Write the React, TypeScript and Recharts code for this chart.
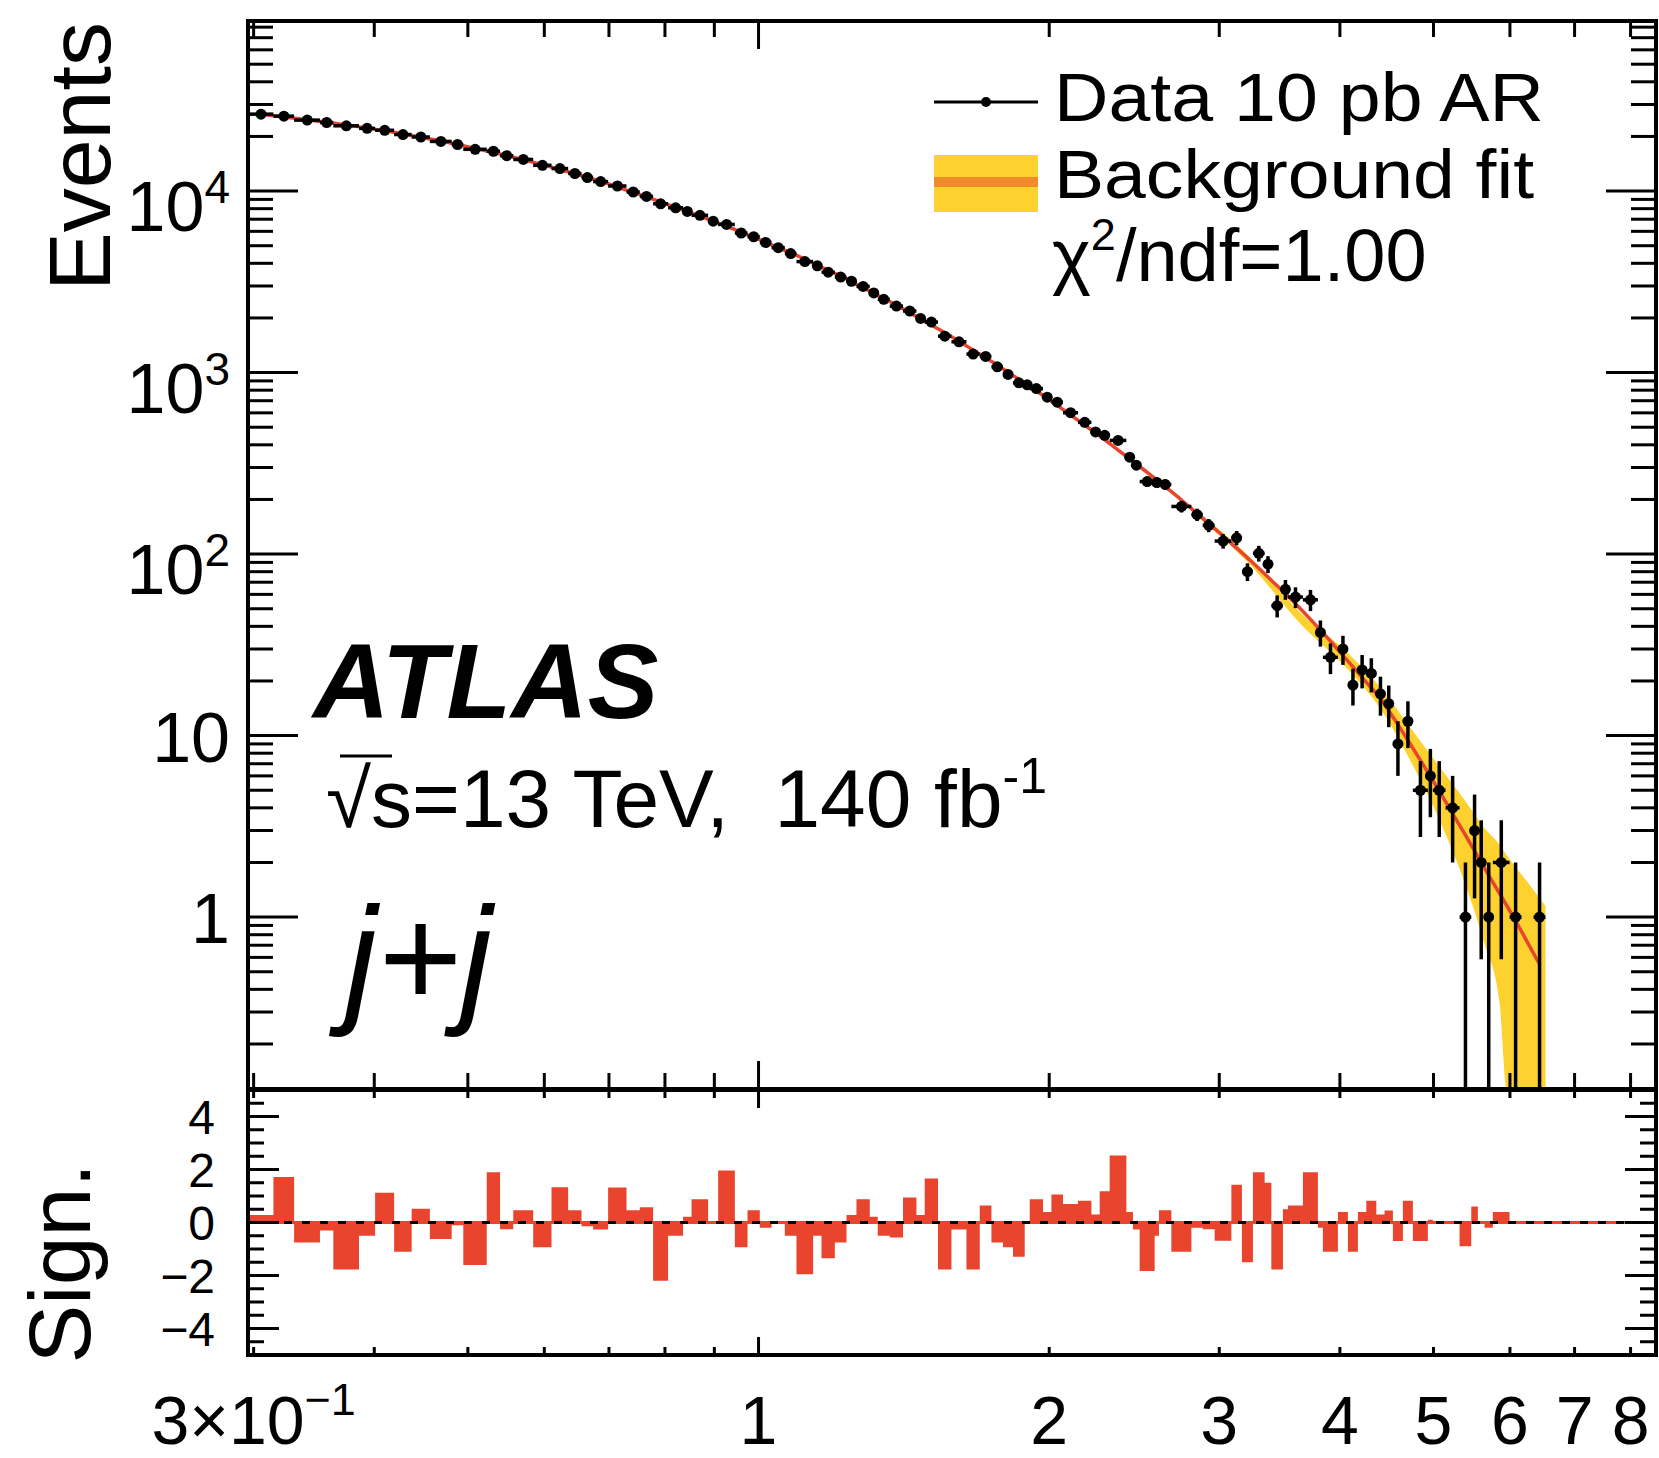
import React from 'react';
import {
  ComposedChart,
  Scatter,
  Line,
  Area,
  XAxis,
  YAxis,
  ErrorBar,
  ReferenceArea,
  ReferenceLine,
} from 'recharts';

// ---------------- data ----------------
const binEdges = [
  0.2962, 0.3145, 0.3304, 0.3514, 0.3628, 0.3857, 0.4008, 0.4194, 0.4373, 0.4567,
  0.4811, 0.4946, 0.523, 0.5399, 0.5572, 0.5843, 0.6104, 0.6351, 0.6557, 0.6741,
  0.6986, 0.7299, 0.7534, 0.7777, 0.806, 0.8353, 0.8524, 0.8867, 0.9082, 0.9451,
  0.9741, 1.003, 1.0315, 1.0647, 1.0947, 1.139, 1.162, 1.1995, 1.2334, 1.263,
  1.3037, 1.3288, 1.3673, 1.4114, 1.4572, 1.4863, 1.5342, 1.5841, 1.6418, 1.6947,
  1.7426, 1.7914, 1.8346, 1.8865, 1.9091, 1.9706, 2.0105, 2.0668, 2.142, 2.2116,
  2.2558, 2.3101, 2.4039, 2.442, 2.4814, 2.5717, 2.5982, 2.6762, 2.8072, 2.8839,
  2.9675, 3.088, 3.1667, 3.2509, 3.3428, 3.3967, 3.4919, 3.5338, 3.6624, 3.7956,
  3.841, 3.9811, 4.0772, 4.1756, 4.26, 4.3627, 4.4497, 4.5389, 4.6483, 4.7603,
  4.9335, 4.9926, 5.1462, 5.3211, 5.4714, 5.5582, 5.6476, 5.7606, 5.9947, 6.1686,
  6.3475, 6.5313,
];

const dataCounts = [
  26540, 25865, 24600, 23870, 22890, 22155, 21625, 20490, 19855, 18775,
  18055, 16990, 16575, 15660, 14935, 13870, 13300, 12500, 11875, 11280,
  10665, 9884, 9348, 8513, 8091, 7728, 7353, 6827, 6549, 5876,
  5603, 5208, 4879, 4529, 4089, 3876, 3574, 3360, 3186, 2982,
  2747, 2534, 2324, 2184, 1989, 1898, 1587, 1478, 1265, 1228,
  1076, 977, 878, 856, 816, 732, 687, 601, 532, 471,
  451, 423, 342, 309, 251, 248, 242, 183, 165, 144,
  118, 123, 80, 101, 88, 52, 64, 58, 56, 37,
  27, 30, 19, 23, 22, 17, 15, 9, 12, 5,
  6, 5, 4, 1, 3, 2, 1, 2, 1, 0,
  1,
];

const fitValues = [
  26490, 25590, 24720, 23920, 23160, 22230, 21460, 20650, 19780, 18860,
  18070, 17200, 16330, 15690, 14880, 13980, 13150, 12450, 11890, 11310,
  10530, 9838, 9292, 8718, 8136, 7709, 7278, 6823, 6392, 5948,
  5569, 5222, 4882, 4563, 4216, 3907, 3656, 3404, 3170, 2934,
  2735, 2559, 2352, 2140, 1977, 1827, 1659, 1488, 1330, 1206,
  1101, 1006, 917, 855, 791, 721.5, 659.8, 584.3, 513.3, 464.8,
  426.6, 374.5, 334.5, 313.4, 282.2, 255.9, 235, 198.6, 167.5, 147.5,
  125.8, 107.9, 95.3, 83.6, 74.7, 66.9, 60.4, 53.2, 43.7, 38.1,
  33.1, 27.6, 23.9, 20.9, 18.3, 16.0, 13.7, 11.5, 9.43, 7.31,
  5.96, 4.95, 3.72, 2.83, 2.32, 2.0, 1.7, 1.3, 0.954, 0.724,
  0.55,
];

const significance = [
  0.28, 1.72, -0.75, -0.3, -1.77, -0.5, 1.12, -1.1, 0.52, -0.62,
  -0.1, -1.6, 1.9, -0.25, 0.46, -0.93, 1.33, 0.46, -0.14, -0.26,
  1.32, 0.46, 0.58, -2.2, -0.5, 0.22, 0.88, 0.05, 1.96, -0.93,
  0.46, -0.2, -0.05, -0.5, -1.95, -0.5, -1.35, -0.75, 0.28, 0.88,
  0.22, -0.5, -0.57, 0.94, 0.28, 1.66, -1.77, -0.26, -1.77, 0.64,
  -0.75, -0.93, -1.29, 0.05, 0.88, 0.4, 1.06, 0.7, 0.82, 0.3,
  1.18, 2.53, 0.4, -0.26, -1.83, -0.5, 0.46, -1.1, -0.2, -0.25,
  -0.69, 1.42, -1.5, 1.9, 1.5, -1.77, 0.5, 0.64, 1.9, -0.2,
  -1.1, 0.4, -1.1, 0.4, 0.82, 0.3, 0.45, -0.7, 0.82, -0.7,
  0.1, 0.03, -0.05, -0.9, 0.6, 0.05, -0.2, 0.4, 0, 0,
  0,
];

const bandX = [2.86, 3.22, 3.634, 4.094, 4.43, 4.724, 5.037, 5.41, 5.648, 5.853, 5.953, 6.095, 6.287, 6.531];
const bandLow = [157.5, 88.7, 41.7, 22.6, 13.5, 7.41, 3.72, 1.45, 0.71, 0.34, 0.113, 0.113, 0.113, 0.113];
const bandHigh = [168.6, 97.3, 47.9, 27.9, 17.8, 11.2, 7.08, 4.27, 3.09, 2.51, 2.19, 1.86, 1.51, 1.15];

const xTicks = [0.3, 0.4, 0.5, 0.6, 0.7, 0.8, 0.9, 1, 2, 3, 4, 5, 6, 7, 8];
const xTickLabels: Record<string, [string, string]> = {
  '0.3': ['3×10', '−1'],
  '1': ['1', ''],
  '2': ['2', ''],
  '3': ['3', ''],
  '4': ['4', ''],
  '5': ['5', ''],
  '6': ['6', ''],
  '7': ['7', ''],
  '8': ['8', ''],
};
const yTicks = [
  0.2, 0.3, 0.4, 0.5, 0.6, 0.7, 0.8, 0.9, 1,
  2, 3, 4, 5, 6, 7, 8, 9, 10,
  20, 30, 40, 50, 60, 70, 80, 90, 100,
  200, 300, 400, 500, 600, 700, 800, 900, 1000,
  2000, 3000, 4000, 5000, 6000, 7000, 8000, 9000, 10000,
  20000, 30000, 40000, 50000, 60000, 70000, 80000,
];
const yTickLabels: Record<string, [string, string]> = {
  '1': ['1', ''],
  '10': ['10', ''],
  '100': ['10', '2'],
  '1000': ['10', '3'],
  '10000': ['10', '4'],
};
const sTicks = [-4.5, -4, -3.5, -3, -2.5, -2, -1.5, -1, -0.5, 0, 0.5, 1, 1.5, 2, 2.5, 3, 3.5, 4, 4.5];
const sTickLabels: Record<string, string> = { '4': '4', '2': '2', '0': '0', '-2': '−2', '-4': '−4' };

// ---------------- layout / style ----------------
const FONT = '"Liberation Sans", Arial, Helvetica, sans-serif';
const W = 1659;
const X_MIN = 0.296;
const X_MAX = 8.5;
const Y_MIN = 0.113;
const Y_MAX = 86500;
const S_MIN = -5;
const S_MAX = 5;
const AXIS_W = 248;
const RIGHT_M = 3;
const PLOT_W = W - AXIS_W - RIGHT_M;
const MAIN_H = 1092;
const MAIN_TOP = 21;
const MAIN_PLOT_H = 1068;
const LOW_TOP_PAGE = 1088;
const LOW_H = 370;
const LOW_MARGIN_TOP = 2;
const LOW_XAXIS_H = 103;
const LOW_PLOT_H = LOW_H - LOW_MARGIN_TOP - LOW_XAXIS_H;

const RED = '#e9442e';
const YELLOW = '#fdd22f';
const ORANGE = '#f08a2a';

// ---------------- derived tables ----------------
const points = dataCounts
  .map((n, i) => {
    const lo = binEdges[i];
    const hi = binEdges[i + 1];
    const e = Math.sqrt(n);
    return { x: (lo + hi) / 2, y: n, ex: (hi - lo) / 2, ey: [Math.min(e, n - Y_MIN), e] };
  })
  .filter((p) => p.y > 0);

const fitData = fitValues.map((f, i) => ({ x: (binEdges[i] + binEdges[i + 1]) / 2, y: f }));
const bandData = bandX.map((x, i) => ({ x, range: [bandLow[i], bandHigh[i]] }));
const sigSteps = binEdges.map((e, i) => ({ x: e, s: significance[Math.min(i, significance.length - 1)] }));

// ---------------- ticks ----------------
const MainXTick = (props: any) => {
  const { x, y, payload } = props;
  const len = payload.value === 1 ? 28 : 16;
  return (
    <g>
      <line x1={x} x2={x} y1={y} y2={y - len} stroke="#000" strokeWidth={3} />
      <line x1={x} x2={x} y1={y - MAIN_PLOT_H} y2={y - MAIN_PLOT_H + len} stroke="#000" strokeWidth={3} />
    </g>
  );
};

const LowXTick = (props: any) => {
  const { x, y, payload } = props;
  const len = payload.value === 1 ? 18 : 8;
  const lab = xTickLabels[String(payload.value)];
  return (
    <g>
      <line x1={x} x2={x} y1={y} y2={y - len} stroke="#000" strokeWidth={3} />
      <line x1={x} x2={x} y1={y - LOW_PLOT_H} y2={y - LOW_PLOT_H + len} stroke="#000" strokeWidth={3} />
      {lab && (
        <text x={x} y={y + 89} textAnchor="middle" fontFamily={FONT} fontSize={68} fill="#000">
          {lab[0]}
          {lab[1] && (
            <tspan fontSize={45} dy={-29}>
              {lab[1]}
            </tspan>
          )}
        </text>
      )}
    </g>
  );
};

const MainYTick = (props: any) => {
  const { x, y, payload } = props;
  const v = payload.value;
  const major = Math.abs(Math.log10(v) - Math.round(Math.log10(v))) < 1e-9;
  const len = major ? 50 : 25;
  const lab = yTickLabels[String(v)];
  return (
    <g>
      <line x1={x} x2={x + len} y1={y} y2={y} stroke="#000" strokeWidth={3} />
      <line x1={x + PLOT_W - len} x2={x + PLOT_W} y1={y} y2={y} stroke="#000" strokeWidth={3} />
      {lab && (
        <text x={x - 18} y={y + (lab[1] ? 40 : 26)} textAnchor="end" fontFamily={FONT} fontSize={70} fill="#000">
          {lab[0]}
          {lab[1] && (
            <tspan fontSize={46} dy={-28}>
              {lab[1]}
            </tspan>
          )}
        </text>
      )}
    </g>
  );
};

const LowYTick = (props: any) => {
  const { x, y, payload } = props;
  const v = payload.value;
  const major = Math.abs(v / 2 - Math.round(v / 2)) < 1e-9;
  const len = major ? 31 : 16;
  const lab = sTickLabels[String(v)];
  return (
    <g>
      <line x1={x} x2={x + len} y1={y} y2={y} stroke="#000" strokeWidth={3} />
      <line x1={x + PLOT_W - len} x2={x + PLOT_W} y1={y} y2={y} stroke="#000" strokeWidth={3} />
      {lab && (
        <text x={x - 33} y={y + 17} textAnchor="end" fontFamily={FONT} fontSize={48} fill="#000">
          {lab}
        </text>
      )}
    </g>
  );
};

const Dot = (p: any) => <circle cx={p.cx} cy={p.cy} r={5.5} fill="#000" />;

export default function App() {
  return (
    <div style={{ position: 'absolute', left: 0, top: 0, width: W, height: 1458, background: '#fff', overflow: 'hidden' }}>
      <div style={{ position: 'absolute', left: 0, top: 0 }}>
        <ComposedChart
          width={W}
          height={MAIN_H}
          margin={{ top: MAIN_TOP, right: RIGHT_M, bottom: 0, left: 0 }}
          style={{ fontFamily: FONT }}
        >
          <XAxis
            dataKey="x"
            type="number"
            scale="log"
            domain={[X_MIN, X_MAX]}
            allowDataOverflow
            ticks={xTicks}
            interval={0}
            height={3}
            tickSize={0}
            tickMargin={0}
            axisLine={false}
            tickLine={false}
            tick={(p: any) => <MainXTick {...p} />}
          />
          <YAxis
            type="number"
            scale="log"
            domain={[Y_MIN, Y_MAX]}
            allowDataOverflow
            ticks={yTicks}
            interval={0}
            width={AXIS_W}
            tickSize={0}
            tickMargin={0}
            axisLine={false}
            tickLine={false}
            tick={(p: any) => <MainYTick {...p} />}
          />
          <Area
            data={bandData}
            dataKey="range"
            type="monotone"
            fill={YELLOW}
            fillOpacity={1}
            stroke="none"
            dot={false}
            activeDot={false}
            isAnimationActive={false}
          />
          <Line
            data={fitData}
            dataKey="y"
            type="monotone"
            stroke={RED}
            strokeWidth={3.5}
            dot={false}
            activeDot={false}
            isAnimationActive={false}
          />
          <Scatter data={points} dataKey="y" shape={Dot} isAnimationActive={false}>
            <ErrorBar dataKey="ey" direction="y" width={0} stroke="#000" strokeWidth={3.5} isAnimationActive={false} />
            <ErrorBar dataKey="ex" direction="x" width={0} stroke="#000" strokeWidth={3.5} isAnimationActive={false} />
          </Scatter>
          <ReferenceArea
            x1={X_MIN}
            x2={X_MAX}
            y1={Y_MIN}
            y2={Y_MAX}
            fill="none"
            fillOpacity={0}
            stroke="#000"
            strokeWidth={4}
            ifOverflow="visible"
          />
        </ComposedChart>
      </div>

      <div style={{ position: 'absolute', left: 0, top: LOW_TOP_PAGE }}>
        <ComposedChart
          width={W}
          height={LOW_H}
          margin={{ top: LOW_MARGIN_TOP, right: RIGHT_M, bottom: 0, left: 0 }}
          style={{ fontFamily: FONT }}
        >
          <XAxis
            dataKey="x"
            type="number"
            scale="log"
            domain={[X_MIN, X_MAX]}
            allowDataOverflow
            ticks={xTicks}
            interval={0}
            height={LOW_XAXIS_H}
            tickSize={0}
            tickMargin={0}
            axisLine={false}
            tickLine={false}
            tick={(p: any) => <LowXTick {...p} />}
          />
          <YAxis
            type="number"
            domain={[S_MIN, S_MAX]}
            allowDataOverflow
            ticks={sTicks}
            interval={0}
            width={AXIS_W}
            tickSize={0}
            tickMargin={0}
            axisLine={false}
            tickLine={false}
            tick={(p: any) => <LowYTick {...p} />}
          />
          <Area
            data={sigSteps}
            dataKey="s"
            type="stepAfter"
            baseValue={0}
            fill={RED}
            fillOpacity={1}
            stroke="none"
            dot={false}
            activeDot={false}
            isAnimationActive={false}
          />
          <ReferenceLine y={0} stroke={RED} strokeWidth={3} ifOverflow="visible" />
          <ReferenceLine y={0} stroke="#000" strokeWidth={3} strokeDasharray="8 10" ifOverflow="visible" />
          <ReferenceArea
            x1={X_MIN}
            x2={X_MAX}
            y1={S_MIN}
            y2={S_MAX}
            fill="none"
            fillOpacity={0}
            stroke="#000"
            strokeWidth={4}
            ifOverflow="visible"
          />
        </ComposedChart>
      </div>

      <svg
        width={W}
        height={1458}
        style={{ position: 'absolute', left: 0, top: 0, pointerEvents: 'none' }}
        fontFamily={FONT}
      >
        <text transform="translate(110,22) rotate(-90)" textAnchor="end" fontSize={88} fill="#000">
          Events
        </text>
        <text transform="translate(90,1163) rotate(-90)" textAnchor="end" fontSize={88} fill="#000">
          Sign.
        </text>

        {/* legend */}
        <line x1={934} x2={1038} y1={102} y2={102} stroke="#000" strokeWidth={3} />
        <circle cx={986} cy={102} r={5} fill="#000" />
        <text x={1054} y={121} fontSize={68} fill="#000" textLength={490} lengthAdjust="spacingAndGlyphs">
          Data 10 pb AR
        </text>
        <rect x={934} y={155} width={104} height={57} fill={YELLOW} />
        <rect x={934} y={177} width={104} height={10} fill={ORANGE} />
        <text x={1054} y={198} fontSize={68} fill="#000" textLength={480} lengthAdjust="spacingAndGlyphs">
          Background fit
        </text>
        <text x={1052} y={281} fontSize={74} fill="#000">
          χ
          <tspan fontSize={45} dy={-31}>
            2
          </tspan>
          <tspan dy={31}>/ndf=1.00</tspan>
        </text>

        {/* labels */}
        <text x={313} y={718} fontSize={106} fontWeight="bold" fontStyle="italic" fill="#000">
          ATLAS
        </text>
        <text x={326} y={827} fontSize={82} fill="#000" style={{ whiteSpace: 'pre' }}>
          {'√s=13 TeV,  140 fb'}
          <tspan fontSize={50} dy={-34}>
            -1
          </tspan>
        </text>
        <line x1={340} x2={392} y1={756} y2={756} stroke="#000" strokeWidth={3} />
        <text x={345} y={1007} fontSize={143} fontStyle="italic" fill="#000">
          j+j
        </text>
      </svg>
    </div>
  );
}
